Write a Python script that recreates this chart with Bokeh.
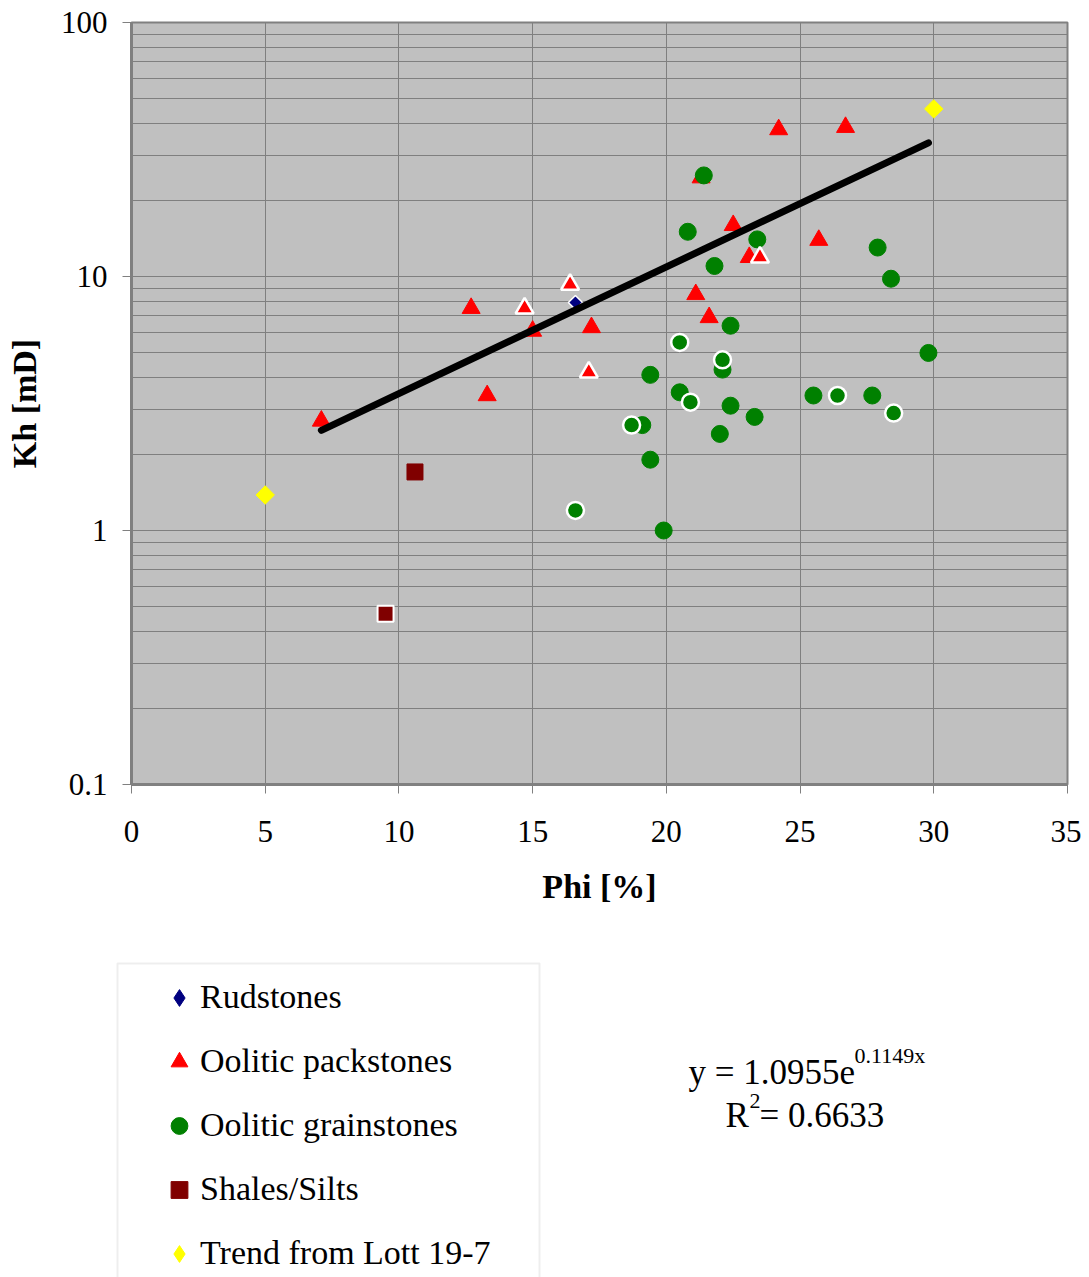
import math
from bokeh.plotting import figure
from bokeh.layouts import column
from bokeh.models import FixedTicker, Legend, LegendItem, Label, Range1d, BoxAnnotation
from bokeh.embed import file_html
from bokeh.resources import INLINE

# ---------------- data ----------------
rud_phi = [16.6]
rud_kh = [7.9]

pack_phi = [7.1, 12.7, 15.0, 17.2, 13.3, 21.3, 22.5, 23.1, 21.1, 21.6, 24.2, 26.7, 25.7]
pack_kh = [2.7, 7.5, 6.1, 6.3, 3.4, 24.5, 15.9, 11.9, 8.5, 6.9, 37.9, 38.7, 13.9]
pack2_phi = [14.7, 16.4, 17.1, 23.5]
pack2_kh = [7.5, 9.3, 4.2, 11.9]

grain_phi = [21.4, 20.8, 23.4, 21.8, 22.4, 22.1, 19.4, 20.5, 22.4, 23.3, 22.0, 19.1,
             19.4, 19.9, 27.9, 28.4, 29.8, 25.5, 27.7]
grain_kh = [25.0, 15.0, 14.0, 11.0, 6.4, 4.3, 4.1, 3.5, 3.1, 2.8, 2.4, 2.6,
            1.9, 1.0, 13.0, 9.8, 5.0, 3.4, 3.4]
grain2_phi = [16.6, 18.7, 20.5, 22.1, 20.9, 26.4, 28.5]
grain2_kh = [1.2, 2.6, 5.5, 4.7, 3.2, 3.4, 2.9]

shale_phi = [10.6]
shale_kh = [1.7]
shale2_phi = [9.5]
shale2_kh = [0.47]

lott_phi = [5.0, 30.0]
lott_kh = [1.38, 45.7]

trend_phi = [7.1, 29.8]
trend_kh = [2.48, 33.6]

fit_coef = "1.0955"
fit_exp = "0.1149"
fit_r2 = "0.6633"

x_ticks = [0, 5, 10, 15, 20, 25, 30, 35]
y_ticks = [0.1, 1, 10, 100]
y_tick_labels = ["0.1", "1", "10", "100"]

legend_labels = ["Rudstones", "Oolitic packstones", "Oolitic grainstones",
                 "Shales/Silts", "Trend from Lott 19-7"]

# ---------------- styles ----------------
FONT = "Liberation Serif"
GRID = "#7F7F7F"
W = 1081
H1 = 920
H2 = 357

STY = {
    "rud": dict(marker="square", angle=math.pi / 4, size=10, fill_color="#000080", line_color="white", line_width=1.5),
    "pack": dict(marker="triangle", size=18, fill_color="#FF0000", line_color="#FF0000", line_width=1),
    "grain": dict(marker="circle", size=17, fill_color="#008000", line_color="#008000", line_width=1),
    "shale": dict(marker="square", size=16, fill_color="#800000", line_color="#800000", line_width=1),
    "lott": dict(marker="square", angle=math.pi / 4, size=13, fill_color="#FFFF00", line_color="#FFFF00", line_width=1),
}

# ---------------- main figure ----------------
p = figure(width=W, height=H1, y_axis_type="log",
           x_range=Range1d(0, 35), y_range=Range1d(0.1, 100),
           output_backend="svg", toolbar_location=None,
           min_border_left=131, min_border_right=W - 1067,
           min_border_top=22, min_border_bottom=H1 - 784)

p.background_fill_color = "#C0C0C0"
p.border_fill_color = "white"
p.outline_line_color = "#808080"
p.outline_line_width = 2

minor = []
for d in [0.1, 1, 10]:
    for k in range(2, 10):
        minor.append(d * k)

p.xaxis.ticker = FixedTicker(ticks=x_ticks)
p.yaxis.ticker = FixedTicker(ticks=y_ticks, minor_ticks=minor)
p.yaxis.major_label_overrides = {t: s for t, s in zip(y_ticks, y_tick_labels)}
p.xaxis.major_label_overrides = {t: str(t) for t in x_ticks}

for ax in (p.xaxis[0], p.yaxis[0]):
    ax.axis_line_color = "#808080"
    ax.axis_line_width = 3
    ax.major_tick_line_color = "#808080"
    ax.major_tick_out = 9
    ax.major_tick_in = 0
    ax.minor_tick_out = 0
    ax.minor_tick_in = 0
    ax.major_label_text_font = FONT
    ax.major_label_text_font_size = "31px"
    ax.major_label_text_color = "black"
    ax.axis_label_text_font = FONT
    ax.axis_label_text_font_size = "34px"
    ax.axis_label_text_font_style = "bold"
    ax.axis_label_text_color = "black"

p.xaxis.axis_label = "Phi [%]"
p.yaxis.axis_label = "Kh [mD]"
p.xaxis.major_label_standoff = 27
p.xaxis.axis_label_standoff = 23
p.yaxis.major_label_standoff = 15
p.yaxis.axis_label_standoff = 15

p.xgrid.grid_line_color = GRID
p.ygrid.grid_line_color = GRID
p.ygrid.minor_grid_line_color = GRID

r_rud = p.scatter(rud_phi, rud_kh, **STY["rud"])
r_pack = p.scatter(pack_phi, pack_kh, **STY["pack"])
r_grain = p.scatter(grain_phi, grain_kh, **STY["grain"])
r_shale = p.scatter(shale_phi, shale_kh, **STY["shale"])
r_lott = p.scatter(lott_phi, lott_kh, **STY["lott"])

p.scatter(pack2_phi, pack2_kh, marker="triangle", size=18,
          fill_color="#FF0000", line_color="white", line_width=2.5)
p.scatter(grain2_phi, grain2_kh, marker="circle", size=17,
          fill_color="#008000", line_color="white", line_width=2.5)
p.scatter(shale2_phi, shale2_kh, marker="square", size=16,
          fill_color="#800000", line_color="white", line_width=2)

p.line(trend_phi, trend_kh, line_color="black", line_width=7, line_cap="round")

# ---------------- legend / equation panel ----------------
q = figure(width=W, height=H2, x_range=Range1d(0, 1), y_range=Range1d(0, 1),
           output_backend="svg", toolbar_location=None,
           x_axis_location=None, y_axis_location=None,
           min_border=0, min_border_left=0, min_border_right=0,
           min_border_top=0, min_border_bottom=0)
q.frame_align = False
q.grid.visible = False
q.outline_line_color = None
q.background_fill_color = "white"
q.border_fill_color = "white"

# legend swatch renderers share the series' data (they lie outside q's view)
leg_sty = dict(STY)
leg_sty["rud"] = dict(marker="diamond", size=10, fill_color="#000080", line_color="#000080")
leg_sty["lott"] = dict(marker="diamond", size=13, fill_color="#FFFF00", line_color="#FFFF00")
lr = [q.scatter(rud_phi, rud_kh, **leg_sty["rud"]),
      q.scatter(pack_phi, pack_kh, **leg_sty["pack"]),
      q.scatter(grain_phi, grain_kh, **leg_sty["grain"]),
      q.scatter(shale_phi, shale_kh, **leg_sty["shale"]),
      q.scatter(lott_phi, lott_kh, **leg_sty["lott"])]

# legend frame (left/right edges, top; bottom runs off the page as in the reference)
q.add_layout(BoxAnnotation(left=117, right=539, top=H2 - (963 - H1), bottom=-20,
                           left_units="screen", right_units="screen",
                           top_units="screen", bottom_units="screen",
                           fill_color="white", fill_alpha=1,
                           line_color="#C8C8C8", line_width=2))

items = [LegendItem(label=lbl, renderers=[r]) for lbl, r in zip(legend_labels, lr)]
legend = Legend(items=items, location=(158, 1.5), orientation="vertical",
                padding=10, spacing=19, glyph_width=42, glyph_height=45,
                label_height=45, label_standoff=0,
                label_text_font=FONT, label_text_font_size="34px",
                label_text_color="black",
                border_line_color=None,
                background_fill_alpha=0,
                margin=0)
q.add_layout(legend, "center")

eq_style = dict(x_units="screen", y_units="screen", text_font=FONT,
                text_color="black", text_baseline="alphabetic", text_align="left")
B = H1 + H2
q.add_layout(Label(x=688, y=B - 1085 + 13, text="y = " + fit_coef + "e", text_font_size="35px", **eq_style))
q.add_layout(Label(x=854, y=B - 1063 + 8, text=fit_exp + "x", text_font_size="22px", **eq_style))
q.add_layout(Label(x=725, y=B - 1128 + 13, text="R", text_font_size="35px", **eq_style))
q.add_layout(Label(x=749, y=B - 1108 + 8, text="2", text_font_size="22px", **eq_style))
q.add_layout(Label(x=759, y=B - 1128 + 13, text="= " + fit_r2, text_font_size="35px", **eq_style))

layout = column(p, q, spacing=0)
open("out.html", "w").write(file_html(layout, INLINE))
